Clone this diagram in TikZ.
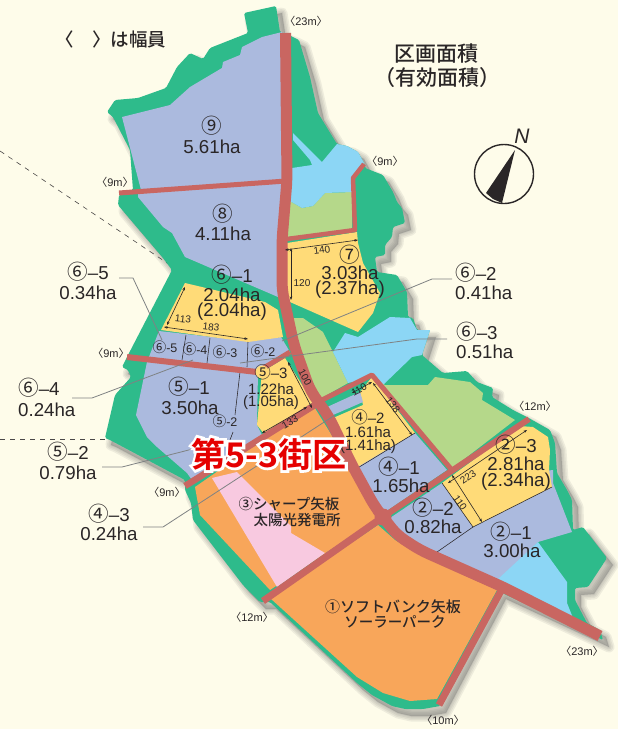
\documentclass[tikz,border=0pt]{standalone}
\usepackage{fontspec}
\usetikzlibrary{arrows.meta}
\setmainfont{Liberation Sans}
\newfontfamily\cjk{Noto Sans CJK JP}
\newfontfamily\cjkc[Scale=1.1]{Noto Sans CJK JP}
\newfontfamily\cjkm{Noto Sans CJK JP Medium}
\newfontfamily\redfont{Noto Sans CJK JP Bold}
\newfontfamily\halofont[FakeBold=16]{Noto Sans CJK JP Bold}
\definecolor{bgc}{HTML}{FEFCEA}
\definecolor{greenc}{HTML}{2EBB8B}
\definecolor{roadc}{HTML}{C96661}
\definecolor{bluec}{HTML}{ABBADE}
\definecolor{yelc}{HTML}{FFDB78}
\definecolor{lgc}{HTML}{B5D88A}
\definecolor{lbc}{HTML}{8CD6F5}
\definecolor{orc}{HTML}{F8A65A}
\definecolor{pkc}{HTML}{F8C9E0}
\definecolor{inkc}{HTML}{2A2627}
\definecolor{leadc}{HTML}{7F8283}
\newcommand{\cn}[1]{{\cjkc #1}}
\newcommand{\wid}[1]{{\cjk 〈}#1{\cjk 〉}}
\tikzset{
  area/.style={text=inkc,font=\fontsize{18.7}{20}\selectfont,inner sep=0pt},
  smallarea/.style={text=inkc,font=\fontsize{15}{17}\selectfont,inner sep=0pt},
  tiny/.style={text=inkc,font=\fontsize{12.5}{14}\selectfont,inner sep=0pt},
  widthlab/.style={text=inkc,font=\fontsize{11}{13}\selectfont,inner sep=0pt},
  dim/.style={text=inkc,font=\fontsize{10}{12}\selectfont,inner sep=0pt},
  jp/.style={text=inkc,font=\cjkm\fontsize{14.5}{16}\selectfont,inner sep=0pt},
  head/.style={text=inkc,font=\cjkm\fontsize{21}{24}\selectfont,inner sep=0pt},
  road/.style={draw=roadc,line join=round,line cap=butt},
  thin/.style={draw=inkc,line width=0.55pt},
  dimline/.style={draw=inkc,line width=0.6pt,{Stealth[length=3.5pt,width=2.6pt]}-{Stealth[length=3.5pt,width=2.6pt]}},
  lead/.style={draw=leadc,line width=0.8pt},
  boundary/.style={draw=inkc!85,line width=0.6pt,dash pattern=on 5pt off 5pt},
}
\def\silh{(244,13)--(276,6)--(280,32)--(291,36)--(299,40)--(310,77)--(318,113)--(337,144)--(347,146)--(358,152)--(364,163)--(365,168)--(383,175)--(393,192)--(397,202)--(402,208)--(405,223)--(393,227)--(392,237)--(385,245)--(385,255)--(375,257)--(377,272)--(397,275)--(407,292)--(408,317)--(413,318)--(417,330)--(430,330)--(422,355)--(437,368)--(443,373)--(467,371)--(477,382)--(493,388)--(492,397)--(513,410)--(527,417)--(550,430)--(555,443)--(557,473)--(567,490)--(572,500)--(573,530)--(583,527)--(607,558)--(588,587)--(575,588)--(575,600)--(587,623)--(600,630)--(603,640)--(500,592)--(440,706)--(423,709)--(405,709)--(392,706)--(372,695)--(357,683)--(270,602)--(260,602)--(243,585)--(193,520)--(191,503)--(185,490)--(185,480)--(110,440)--(105,438)--(115,395)--(131,377)--(128,370)--(122,367)--(127,357)--(172,270)--(163,258)--(118,205)--(119,195)--(133,190)--(130,150)--(113,117)--(107,112)--(115,100)--(138,98)--(166,88)--(177,67)--(190,53)--(203,59)--(210,48)--(248,33)--cycle}
\begin{document}
\begin{tikzpicture}[x=1pt,y=-1pt]
\useasboundingbox (0,0) rectangle (618,729);
\fill[bgc] (0,0) rectangle (618,729);
% soft shadow
\foreach \w in {11,8,5,2}{
  \path[shift={(6,7)},draw=black!60,fill=black!60,opacity=0.10,line width=\w pt,line join=round] \silh;
}
% dashed boundaries
\draw[boundary] (0,151) -- (297,350);
\draw[boundary] (0,439) -- (262,439);
% silhouette
\path[fill=greenc,rounded corners=1.5pt] \silh;
% regions
\fill[bluec] (122,117)--(170,105)--(190,87)--(222,68)--(223,62)--(240,55)--(242,47)--(262,37)--(282,32)--(287,182)--(141,190)--cycle;
\fill[bluec] (138,197)--(163,227)--(172,233)--(185,257)--(278,297)--(283,240)--(287,182)--(138,192)--cycle;
\fill[bluec] (159,331)--(248,341)--(281,337)--(290,352)--(258,372)--(257,425)--(263,437)--(192,480)--(187,473)--(157,447)--(147,437)--(136,415)--(147,362)--cycle;
\fill[yelc] (185,283)--(265,302)--(278,310)--(283,337)--(248,342)--(161,330)--cycle;
\fill[yelc] (262,372)--(285,358)--(313,402)--(265,435)--(257,425)--cycle;
\fill[yelc] (287,243)--(357,232)--(358,243)--(363,263)--(380,293)--(373,313)--(358,332)--(290,302)--(285,300)--cycle;
\fill[lgc] (288,200)--(302,208)--(313,206)--(325,193)--(352,192)--(352,230)--(287,237)--cycle;
\fill[lbc] (293,133)--(322,162)--(337,144)--(347,146)--(358,152)--(364,163)--(352,178)--(352,192)--(325,193)--(313,206)--(302,208)--(288,200)--(292,168)--(312,165)--(310,160)--(293,140)--cycle;
\fill[lgc] (290,318)--(303,318)--(323,332)--(333,352)--(348,383)--(318,400)--(292,345)--cycle;
\fill[lbc] (333,352)--(345,333)--(358,337)--(390,317)--(410,318)--(417,330)--(430,330)--(422,355)--(412,357)--(383,385)--(372,378)--(348,383)--cycle;
\fill[lgc] (385,385)--(428,385)--(435,377)--(470,382)--(483,393)--(482,400)--(515,420)--(450,470)--(376,380)--cycle;
\fill[yelc] (333,418)--(363,405)--(360,392)--(372,377)--(415,433)--(356,470)--cycle;
\fill[bluec] (325,408)--(360,392)--(363,402)--(333,415)--cycle;
\fill[bluec] (415,433)--(447,470)--(385,512)--(376,503)--(356,468)--cycle;
\fill[bluec] (390,518)--(442,483)--(553,470)--(553,483)--(572,532)--(538,542)--(497,584)--(420,550)--(398,535)--cycle;
\fill[yelc] (442,483)--(520,426)--(533,427)--(548,437)--(550,450)--(549,470)--(552,487)--(473,527)--cycle;
\fill[lbc] (538,542)--(497,580)--(500,592)--(573,618)--(567,603)--(567,582)--cycle;
\fill[orc] (195,487)--(313,405)--(378,510)--(375,520)--(270,590)--(200,515)--cycle;
\fill[pkc] (212,478)--(237,472)--(291,526)--(291,533)--(325,553)--(277,587)--cycle;
\fill[orc] (378,525)--(395,540)--(420,555)--(497,590)--(437,699)--(410,701)--(383,693)--(357,677)--(270,598)--cycle;
% thin divisions
\draw[thin] (186,335)--(182,360);
\draw[thin] (210,338)--(207,363);
\draw[thin] (248,342)--(247,367);
\draw[thin] (240,372)--(235,415);
\draw[thin] (233,432)--(230,440);
\draw[thin] (356,469)--(415,433);
\draw[thin] (442,483)--(473,527)--(437,552);
\draw[thin] (473,527)--(552,487);
% roads
\draw[road,line width=5pt] (119,193)--(286,181);
\draw[road,line width=6pt] (127,357)--(257,372);
\draw[road,line width=5pt] (257,372)--(290,352);
\draw[road,line width=4.5pt] (287,239)--(355,230)--(353,178)--(364,164);
\draw[road,line width=6.5pt] (185,486)--(318,403);
\draw[road,line width=7pt] (263,601)--(383,517);
\draw[road,line width=7pt] (502,589)--(439,705);
\draw[road,line width=6pt] (383,517)--(529,419);
\draw[road,line width=5pt] (318,402)--(372,375)--(451,469);
\draw[road,line width=11pt,rounded corners=9pt] (285.5,33)--(287,180)--(282,240)--(282,290)--(294,345)--(310,390)--(329,417)--(352,465)--(375,507)--(383,517)--(397,535)--(420,550)--(503,587)--(600,636);
\fill[roadc] (383,517) circle (8.5pt);
% leader lines
\draw[lead] (119,278)--(133,278)--(162,340);
\draw[lead] (72,398)--(92,398)--(193,360);
\draw[lead] (102,467)--(122,467)--(228,440);
\draw[lead] (143,527)--(163,527)--(335,415);
\draw[lead] (452,279)--(432,279)--(282,341);
\draw[lead] (447,339)--(417,339)--(240,363);
% dimensions
\draw[dimline] (285,250)--(358,240);
\draw[dimline] (291,248)--(291,300);
\draw[dimline] (185,287)--(167,325);
\draw[dimline] (164,327)--(248,339);
\draw[dimline] (288,362)--(312,408);
\draw[dimline] (262,433)--(307,407);
\draw[dimline] (352,393)--(372,382);
\draw[dimline] (373,383)--(412,435);
\draw[dimline] (448,483)--(527,430);
\draw[dimline] (452,475)--(482,522);
\node[dim,rotate=8] (d140) at (322,250) {140};
\node[dim] (d120) at (302,283) {120};
\node[dim,rotate=-6] (d113) at (183,319) {113};
\node[dim,rotate=-7] (d183) at (211,327) {183};
\node[dim,rotate=-62] (d100) at (305,377) {100};
\node[dim,rotate=30] (d133) at (290,422) {133};
\node[dim,rotate=30] (d110a) at (359,390) {110};
\node[dim,rotate=-53] (d138) at (393,405) {138};
\node[dim,rotate=35] (d223) at (468,477) {223};
\node[dim,rotate=-55] (d110b) at (460,503) {110};
% compass
\draw[inkc,line width=1.4pt] (504,174) circle (29.5pt);
\fill[inkc] (515,150)--(486,193)--(493,199)--(502,203)--cycle;
\node[text=inkc,inner sep=0pt,font=\itshape\fontsize{21}{24}\selectfont] (north) at (522,136) {N};
% heads
\node[text=inkc,inner sep=0pt,font=\cjkm\fontsize{18.5}{20}\selectfont] (note) at (111,39) {〈　〉は幅員};
\node[head] (h1) at (436,54) {区画面積};
\node[head] (h2) at (437,78) {（有効面積）};
% width labels
\node[widthlab] (w1) at (306,21) {\wid{23m}};
\node[widthlab] (w2) at (385,161) {\wid{9m}};
\node[widthlab] (w3) at (115,182) {\wid{9m}};
\node[widthlab] (w4) at (111,353) {\wid{9m}};
\node[widthlab] (w5) at (167,492) {\wid{9m}};
\node[widthlab] (w6) at (535,406) {\wid{12m}};
\node[widthlab] (w7) at (252,617) {\wid{12m}};
\node[widthlab] (w8) at (582,651) {\wid{23m}};
\node[widthlab] (w9) at (443,720) {\wid{10m}};
% area labels
\node[area] (n9) at (212,126) {\cn{⑨}};
\node[area] (a9) at (212,147) {5.61ha};
\node[area] (n8) at (223,214) {\cn{⑧}};
\node[area] (a8) at (223,234) {4.11ha};
\node[area] (n61) at (232,275) {\cn{⑥}–1};
\node[area] (a61) at (232,295) {2.04ha};
\node[area] (b61) at (232,312) {(2.04ha)};
\node[area] (n7) at (350,255) {\cn{⑦}};
\node[area] (a7) at (350,273) {3.03ha};
\node[area] (b7) at (350,290) {(2.37ha)};
\node[area] (n65) at (88,272) {\cn{⑥}–5};
\node[area] (a65) at (88,293) {0.34ha};
\node[area,anchor=west] (n64) at (18,388) {\cn{⑥}–4};
\node[area,anchor=west] (a64) at (18,410) {0.24ha};
\node[area] (n52) at (68,452) {\cn{⑤}–2};
\node[area] (a52) at (68,473) {0.79ha};
\node[area] (n43) at (109,514) {\cn{④}–3};
\node[area] (a43) at (109,534) {0.24ha};
\node[area,anchor=west] (n62) at (455,273) {\cn{⑥}–2};
\node[area,anchor=west] (a62) at (455,293) {0.41ha};
\node[area,anchor=west] (n63) at (456,332) {\cn{⑥}–3};
\node[area,anchor=west] (a63) at (456,352) {0.51ha};
\node[tiny] (s65) at (165,347) {\cn{⑥}-5};
\node[tiny] (s64) at (195,349) {\cn{⑥}-4};
\node[tiny] (s63) at (225,352) {\cn{⑥}-3};
\node[tiny] (s62) at (263,351) {\cn{⑥}-2};
\node[tiny] (s52) at (225,421) {\cn{⑤}-2};
\node[area] (n51) at (189,387) {\cn{⑤}–1};
\node[area] (a51) at (190,408) {3.50ha};
\fill[yelc] (262,372) circle (6.5pt);
\node[smallarea] (n53) at (271,372) {\cn{⑤}–3};
\node[smallarea] (a53) at (271,389) {1.22ha};
\node[smallarea] (b53) at (271,403) {(1.05ha)};
\node[smallarea] (n42) at (368,417) {\cn{④}–2};
\node[smallarea] (a42) at (368,432) {1.61ha};
\node[smallarea] (b42) at (368,447) {(1.41ha)};
\node[area] (n41) at (399,467) {\cn{④}–1};
\node[area] (a41) at (401,486) {1.65ha};
\node[area] (n23) at (516,445) {\cn{②}–3};
\node[area] (a23) at (516,464) {2.81ha};
\node[area] (b23) at (516,482) {(2.34ha)};
\node[area] (n22) at (433,508) {\cn{②}–2};
\node[area] (a22) at (433,527) {0.82ha};
\node[area] (n21) at (511,532) {\cn{②}–1};
\node[area] (a21) at (512,551) {3.00ha};
\node[jp] (t3a) at (289,504) {③シャープ矢板};
\node[jp] (t3b) at (297,520) {太陽光発電所};
\node[jp,font=\cjkm\fontsize{15}{17}\selectfont] (t1a) at (393,607) {①ソフトバンク矢板};
\node[jp] (t1b) at (395,622) {ソーラーパーク};
% block title
\node[text=white,inner sep=0pt,font=\halofont\fontsize{34}{36}\selectfont] (blockhalo) at (269,454) {第5-3街区};
\node[text=red!90!black,inner sep=0pt,font=\redfont\fontsize{34}{36}\selectfont] (block) at (269,454) {第5-3街区};
\end{tikzpicture}
\end{document}
